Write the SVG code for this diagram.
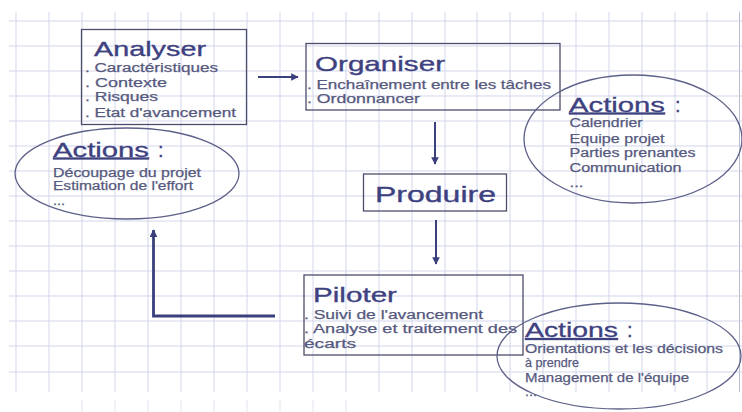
<svg xmlns="http://www.w3.org/2000/svg" width="742" height="412" viewBox="0 0 742 412">
<style>
.grid line{stroke:#d2d5ea;stroke-width:1}
.box{fill:none;stroke:#4c4d6c;stroke-width:1.3}
.ell{fill:none;stroke:#5d6088;stroke-width:1.3}
.title{font-family:"Liberation Sans",Arial,sans-serif;fill:#3e417f;stroke:#3e417f;stroke-width:0.35}
.sub{font-family:"Liberation Sans",Arial,sans-serif;font-size:12.5px;fill:#56597e;stroke:#56597e;stroke-width:0.25}
.act{font-family:"Liberation Sans",Arial,sans-serif;font-size:20px;fill:#3e417f;stroke:#3e417f;stroke-width:0.3}
.conn{fill:none;stroke:#3b3f7c;stroke-width:2}
</style>
<defs>
<marker id="ah" viewBox="0 0 10 10" refX="9" refY="5" markerWidth="3.8" markerHeight="3.8" orient="auto" markerUnits="strokeWidth">
<path d="M0,0 L10,5 L0,10 z" fill="#3b3f7c"/>
</marker>
<marker id="ah2" viewBox="0 0 10 10" refX="9" refY="5" markerWidth="2.8" markerHeight="2.8" orient="auto" markerUnits="strokeWidth">
<path d="M0,0 L10,5 L0,10 z" fill="#3b3f7c"/>
</marker>
</defs>
<rect width="742" height="412" fill="#ffffff"/>
<g class="grid">
<line x1="16" y1="12" x2="16" y2="392"/><line x1="49" y1="12" x2="49" y2="392"/><line x1="82" y1="12" x2="82" y2="392"/><line x1="115" y1="12" x2="115" y2="392"/><line x1="148" y1="12" x2="148" y2="392"/><line x1="181" y1="12" x2="181" y2="392"/><line x1="214" y1="12" x2="214" y2="392"/><line x1="247" y1="12" x2="247" y2="392"/><line x1="280" y1="12" x2="280" y2="392"/><line x1="313" y1="12" x2="313" y2="392"/><line x1="346" y1="12" x2="346" y2="392"/><line x1="379" y1="12" x2="379" y2="392"/><line x1="412" y1="12" x2="412" y2="392"/><line x1="445" y1="12" x2="445" y2="392"/><line x1="477" y1="12" x2="477" y2="392"/><line x1="510" y1="12" x2="510" y2="392"/><line x1="543" y1="12" x2="543" y2="392"/><line x1="576" y1="12" x2="576" y2="392"/><line x1="609" y1="12" x2="609" y2="392"/><line x1="642" y1="12" x2="642" y2="392"/><line x1="675" y1="12" x2="675" y2="392"/><line x1="707" y1="12" x2="707" y2="392"/><line x1="739.5" y1="12" x2="739.5" y2="392" style="stroke:#b9bdd2"/>
<line x1="9" y1="21" x2="742" y2="21"/><line x1="9" y1="46" x2="742" y2="46"/><line x1="9" y1="71" x2="742" y2="71"/><line x1="9" y1="96" x2="742" y2="96"/><line x1="9" y1="121" x2="742" y2="121"/><line x1="9" y1="146" x2="742" y2="146"/><line x1="9" y1="171" x2="742" y2="171"/><line x1="9" y1="196" x2="742" y2="196"/><line x1="9" y1="221" x2="742" y2="221"/><line x1="9" y1="246" x2="742" y2="246"/><line x1="9" y1="271" x2="742" y2="271"/><line x1="9" y1="296" x2="742" y2="296"/><line x1="9" y1="321" x2="742" y2="321"/><line x1="9" y1="346" x2="742" y2="346"/><line x1="9" y1="372" x2="742" y2="372"/>
<g opacity="0.6"><line x1="82" y1="400" x2="82" y2="412"/><line x1="115" y1="400" x2="115" y2="412"/><line x1="148" y1="400" x2="148" y2="412"/><line x1="181" y1="400" x2="181" y2="412"/><line x1="214" y1="400" x2="214" y2="412"/><line x1="247" y1="400" x2="247" y2="412"/><line x1="280" y1="400" x2="280" y2="412"/><line x1="313" y1="400" x2="313" y2="412"/><line x1="346" y1="400" x2="346" y2="412"/></g>
</g>
<g id="connectors">
<line class="conn" x1="258" y1="77" x2="298" y2="77" marker-end="url(#ah)"/>
<line class="conn" x1="435" y1="122" x2="435" y2="164" marker-end="url(#ah)"/>
<line class="conn" x1="436" y1="220" x2="436" y2="264" marker-end="url(#ah)"/>
<polyline class="conn" style="stroke-width:2.8" points="275,316 153.5,316 153.5,230" marker-end="url(#ah2)"/>
</g>
<g id="analyser">
<rect class="box" x="81.5" y="29.5" width="165" height="95"/>
<text class="title" x="94" y="56" font-size="21" textLength="112" lengthAdjust="spacingAndGlyphs">Analyser</text>
<text class="sub" x="85" y="71.5" textLength="133" lengthAdjust="spacingAndGlyphs">. Caractéristiques</text>
<text class="sub" x="85" y="86.5" textLength="82" lengthAdjust="spacingAndGlyphs">. Contexte</text>
<text class="sub" x="85" y="101" textLength="73" lengthAdjust="spacingAndGlyphs">. Risques</text>
<text class="sub" x="85" y="116.5" textLength="151" lengthAdjust="spacingAndGlyphs">. Etat d'avancement</text>
</g>
<g id="organiser">
<rect class="box" x="306" y="43.5" width="254" height="66.5"/>
<text class="title" x="315" y="71" font-size="21" textLength="130" lengthAdjust="spacingAndGlyphs">Organiser</text>
<text class="sub" x="307" y="89" textLength="244" lengthAdjust="spacingAndGlyphs">. Enchaînement entre les tâches</text>
<text class="sub" x="307" y="102.5" textLength="113" lengthAdjust="spacingAndGlyphs">. Ordonnancer</text>
</g>
<g id="produire">
<rect class="box" x="363.5" y="174" width="143" height="37"/>
<text class="title" x="375" y="201.5" font-size="22" textLength="121" lengthAdjust="spacingAndGlyphs">Produire</text>
</g>
<g id="piloter">
<rect class="box" x="304" y="275" width="219" height="80"/>
<text class="title" x="313" y="301.5" font-size="21" textLength="84" lengthAdjust="spacingAndGlyphs">Piloter</text>
<text class="sub" x="304" y="319" textLength="179" lengthAdjust="spacingAndGlyphs">. Suivi de l'avancement</text>
<text class="sub" x="304" y="333" textLength="213" lengthAdjust="spacingAndGlyphs">. Analyse et traitement des</text>
<text class="sub" x="304" y="347.5" textLength="52" lengthAdjust="spacingAndGlyphs">écarts</text>
</g>
<g id="actions-analyser">
<ellipse class="ell" cx="127" cy="173.5" rx="112" ry="45.5"/>
<text class="act" x="53" y="156.5" text-decoration="underline" textLength="96" lengthAdjust="spacingAndGlyphs">Actions</text>
<text class="act" x="158" y="156.5">:</text>
<text class="sub" x="53" y="176.5" textLength="148" lengthAdjust="spacingAndGlyphs">Découpage du projet</text>
<text class="sub" x="53" y="190" textLength="140" lengthAdjust="spacingAndGlyphs">Estimation de l'effort</text>
<text class="sub" x="53" y="205" textLength="12" lengthAdjust="spacingAndGlyphs">...</text>
</g>
<g id="actions-organiser">
<ellipse class="ell" cx="633" cy="139" rx="109" ry="64"/>
<text class="act" x="569" y="111.5" text-decoration="underline" textLength="96" lengthAdjust="spacingAndGlyphs">Actions</text>
<text class="act" x="675" y="111.5">:</text>
<text class="sub" x="569.5" y="126.5" textLength="73" lengthAdjust="spacingAndGlyphs">Calendrier</text>
<text class="sub" x="569.5" y="142.5" textLength="95" lengthAdjust="spacingAndGlyphs">Equipe projet</text>
<text class="sub" x="569.5" y="157" textLength="126" lengthAdjust="spacingAndGlyphs">Parties prenantes</text>
<text class="sub" x="569.5" y="171.5" textLength="112" lengthAdjust="spacingAndGlyphs">Communication</text>
<text class="sub" x="569.5" y="186.5" textLength="14" lengthAdjust="spacingAndGlyphs">...</text>
</g>
<g id="actions-piloter">
<ellipse class="ell" cx="619" cy="356" rx="122" ry="53"/>
<text class="act" x="525" y="337" text-decoration="underline" textLength="93" lengthAdjust="spacingAndGlyphs">Actions</text>
<text class="act" x="627" y="337">:</text>
<text class="sub" x="525" y="352.5" textLength="198" lengthAdjust="spacingAndGlyphs">Orientations et les décisions</text>
<text class="sub" x="525" y="367" textLength="54" lengthAdjust="spacingAndGlyphs">à prendre</text>
<text class="sub" x="525" y="381.5" textLength="164" lengthAdjust="spacingAndGlyphs">Management de l'équipe</text>
<text class="sub" x="525" y="396" textLength="12" lengthAdjust="spacingAndGlyphs">...</text>
</g>
</svg>
